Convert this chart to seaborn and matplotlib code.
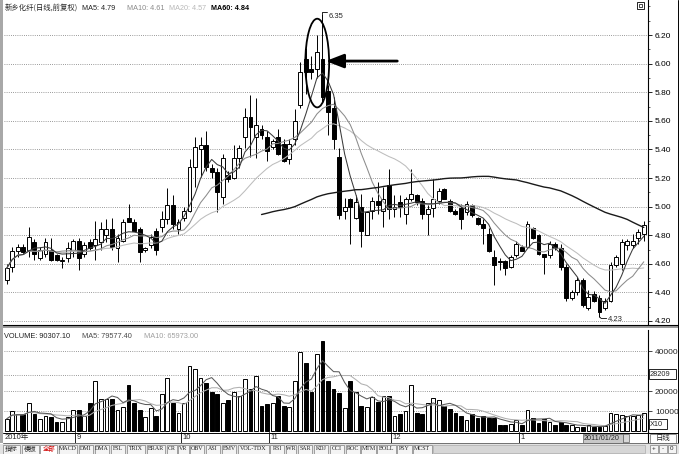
import numpy as np
import pandas as pd
import matplotlib
matplotlib.use("Agg")
import matplotlib.pyplot as plt
from matplotlib.patches import Ellipse, Rectangle
from matplotlib.ticker import MultipleLocator
import seaborn as sns

# ---------------- data ----------------
title_name = "新乡化纤(日线,前复权)"
ma_header = ["MA5: 4.79", "MA10: 4.61", "MA20: 4.57", "MA60: 4.84"]
vol_header = ["VOLUME: 90307.10", "MA5: 79577.40", "MA10: 65973.00"]

opens = [4.49, 4.58, 4.69, 4.72, 4.70, 4.75, 4.64, 4.67, 4.70, 4.66,
         4.62, 4.64, 4.69, 4.76, 4.67, 4.75, 4.73, 4.75, 4.80, 4.84,
         4.71, 4.76, 4.92, 4.89, 4.84, 4.70, 4.73, 4.83, 4.86, 4.91,
         5.01, 4.84, 4.92, 4.97, 5.28, 5.40, 5.43, 5.27, 5.24, 5.07,
         5.22, 5.20, 5.34, 5.49, 5.63, 5.49, 5.54, 5.49, 5.42, 5.49,
         5.44, 5.33, 5.47, 5.71, 6.03, 5.96, 5.96, 6.03, 5.81, 5.69,
         5.35, 4.97, 5.05, 4.92, 5.00, 4.80, 4.97, 5.04, 4.97, 5.15,
         4.98, 5.03, 4.95, 5.05, 5.08, 5.04, 4.95, 4.99, 5.04, 5.12,
         5.04, 4.97, 4.99, 4.96, 5.01, 4.92, 4.88, 4.81, 4.65, 4.62,
         4.62, 4.58, 4.66, 4.72, 4.72, 4.85, 4.80, 4.67, 4.66, 4.74,
         4.71, 4.58, 4.36, 4.40, 4.49, 4.29, 4.39, 4.36, 4.29, 4.34,
         4.59, 4.60, 4.73, 4.73, 4.78, 4.81]
highs = [4.60, 4.72, 4.74, 4.74, 4.86, 4.77, 4.72, 4.78, 4.78, 4.67,
         4.65, 4.75, 4.77, 4.78, 4.75, 4.77, 4.90, 4.89, 4.91, 4.92,
         4.81, 4.91, 5.02, 4.91, 4.86, 4.72, 4.81, 4.85, 4.97, 5.13,
         5.08, 4.91, 5.00, 5.33, 5.49, 5.49, 5.53, 5.30, 5.27, 5.37,
         5.25, 5.43, 5.43, 5.69, 5.78, 5.76, 5.57, 5.53, 5.47, 5.54,
         5.47, 5.47, 5.68, 6.01, 6.11, 6.05, 6.20, 6.35, 5.85, 5.77,
         5.41, 5.06, 5.06, 5.08, 5.09, 4.96, 5.07, 5.17, 5.14, 5.26,
         5.08, 5.08, 5.07, 5.26, 5.09, 5.06, 5.01, 5.19, 5.13, 5.13,
         5.05, 4.98, 5.02, 5.04, 5.02, 4.93, 4.91, 4.85, 4.70, 4.64,
         4.63, 4.66, 4.76, 4.73, 4.90, 4.86, 4.81, 4.67, 4.76, 4.75,
         4.74, 4.60, 4.42, 4.51, 4.50, 4.42, 4.41, 4.38, 4.36, 4.61,
         4.66, 4.77, 4.77, 4.81, 4.84, 4.90]
lows = [4.46, 4.54, 4.65, 4.67, 4.65, 4.63, 4.63, 4.65, 4.62, 4.62,
        4.57, 4.61, 4.65, 4.56, 4.65, 4.70, 4.63, 4.70, 4.75, 4.70,
        4.61, 4.75, 4.89, 4.83, 4.61, 4.68, 4.71, 4.66, 4.82, 4.88,
        4.84, 4.81, 4.90, 4.96, 5.14, 5.21, 5.25, 5.20, 4.96, 5.02,
        5.17, 5.19, 5.27, 5.41, 5.35, 5.34, 5.47, 5.32, 5.40, 5.36,
        5.31, 5.30, 5.43, 5.69, 5.79, 5.89, 5.90, 5.73, 5.50, 5.40,
        4.91, 4.91, 4.74, 4.91, 4.72, 4.80, 4.91, 4.95, 4.86, 4.91,
        4.93, 4.93, 4.88, 5.04, 5.01, 4.91, 4.80, 4.93, 5.02, 5.05,
        4.96, 4.94, 4.84, 4.94, 4.93, 4.87, 4.74, 4.68, 4.45, 4.56,
        4.52, 4.57, 4.65, 4.69, 4.71, 4.77, 4.66, 4.53, 4.64, 4.70,
        4.56, 4.34, 4.35, 4.38, 4.30, 4.28, 4.33, 4.23, 4.28, 4.33,
        4.58, 4.56, 4.70, 4.71, 4.74, 4.76]
closes = [4.57, 4.69, 4.72, 4.68, 4.79, 4.67, 4.70, 4.75, 4.63, 4.63,
          4.63, 4.71, 4.76, 4.64, 4.73, 4.71, 4.77, 4.84, 4.84, 4.72,
          4.78, 4.89, 4.89, 4.83, 4.68, 4.71, 4.79, 4.70, 4.91, 5.01,
          4.88, 4.89, 4.97, 5.28, 5.42, 5.43, 5.28, 5.24, 5.10, 5.34,
          5.19, 5.34, 5.41, 5.63, 5.56, 5.57, 5.50, 5.39, 5.46, 5.37,
          5.32, 5.44, 5.60, 5.94, 5.94, 5.94, 6.08, 5.77, 5.66, 5.47,
          4.94, 5.00, 5.00, 5.03, 4.83, 4.96, 5.04, 5.01, 5.05, 4.98,
          5.00, 5.00, 5.05, 5.09, 5.03, 4.95, 4.98, 5.05, 5.11, 5.05,
          4.97, 4.95, 4.91, 5.02, 4.94, 4.88, 4.85, 4.69, 4.59, 4.61,
          4.57, 4.65, 4.74, 4.69, 4.88, 4.78, 4.67, 4.65, 4.74, 4.71,
          4.58, 4.36, 4.40, 4.49, 4.31, 4.37, 4.34, 4.26, 4.34, 4.59,
          4.65, 4.75, 4.76, 4.76, 4.82, 4.87]
volumes = [6100, 9800, 8300, 8300, 14200, 8300, 5900, 7400, 7000, 4600,
           4600, 7000, 10700, 10500, 7700, 14200, 24900, 16000, 16200, 16200,
           10500, 12000, 23000, 13800, 10500, 7000, 11600, 7400, 18400, 26700,
           14200, 9200, 14200, 32600, 30800, 26700, 24000, 19400, 18400, 13800,
           15700, 19400, 17500, 25800, 21200, 27300, 12700, 13300, 14200, 17500,
           12300, 12000, 24900, 39300, 34100, 19400, 38300, 45000, 24900, 20800,
           19000, 11600, 24900, 19400, 12300, 12000, 17000, 14700, 17500, 17500,
           7400, 8300, 9800, 23000, 8800, 8300, 13800, 16400, 15700, 12300,
           11000, 8800, 7400, 5500, 8300, 6500, 7400, 6500, 6500, 3100,
           2800, 3700, 5500, 3100, 10700, 6500, 4100, 5900, 4600, 2800,
           4600, 2800, 2800, 1800, 2200, 2800, 2200, 2100, 2500, 8800,
           8600, 8000, 7400, 7600, 8000, 9030]

price_ticks = [6.20, 6.00, 5.80, 5.60, 5.40, 5.20, 5.00, 4.80, 4.60, 4.40, 4.20]
vol_ticks = [40000, 20000, 10000]
vol_marker = 28209
month_labels = ["2010年", "9", "10", "11", "12", "1"]
month_starts = [0, 13, 32, 48, 70, 93]
tab_labels = ["指标", "模板", "全部", "MACD", "DMI", "DMA", "FSL", "TRIX", "BRAR",
              "CR", "VR", "OBV", "ASI", "EMV", "VOL-TDX", "RSI", "WR", "SAR",
              "KDJ", "CCI", "ROC", "MTM", "BOLL", "PSY", "MCST"]
peak_label = "6.35"
low_label = "4.23"
cursor_date = "2011/01/20"
period_label = "日线"

# ---------------- setup ----------------
sns.set_theme(style="white")
plt.rcParams['font.family'] = ['Liberation Sans', 'Noto Sans CJK SC', 'DejaVu Sans']
plt.rcParams['axes.unicode_minus'] = False

W, H = 679, 454
fig = plt.figure(figsize=(W / 100, H / 100), dpi=100)
fig.patch.set_facecolor("white")


def px_ax(x0, y0, x1, y1, **kw):
    return fig.add_axes([x0 / W, 1 - y1 / H, (x1 - x0) / W, (y1 - y0) / H], **kw)


df = pd.DataFrame({"open": opens, "high": highs, "low": lows,
                   "close": closes, "volume": volumes})
df["idx"] = np.arange(len(df))
df["ma5"] = df["close"].rolling(5, min_periods=1).mean()
df["ma10"] = df["close"].rolling(10, min_periods=1).mean()
df["ma20"] = df["close"].rolling(20, min_periods=1).mean()
df["ma60"] = df["close"].rolling(60, min_periods=47).mean()
df["vma5"] = df["volume"].rolling(5, min_periods=1).mean()
df["vma10"] = df["volume"].rolling(10, min_periods=1).mean()
up = (df["close"] >= df["open"]).values
x = df["idx"].values

XMIN, XMAX = -0.49, 115.76

# ---------------- price panel ----------------
ax = px_ax(4, 0, 648, 324)
ax.set_facecolor("white")
ax.set_xlim(XMIN, XMAX)
ax.set_ylim(4.179, 6.445)
for s in ["top", "left", "bottom"]:
    ax.spines[s].set_visible(False)
ax.spines["right"].set_color("black")
ax.spines["right"].set_linewidth(0.8)
ax.yaxis.tick_right()
ax.set_yticks(price_ticks)
ax.set_yticklabels([f"{t:.2f}" for t in price_ticks])
ax.yaxis.set_minor_locator(MultipleLocator(0.1))
ax.tick_params(axis="y", which="major", direction="out", length=3, width=0.6,
               labelsize=6, pad=2, colors="black", right=True)
ax.tick_params(axis="y", which="minor", direction="out", length=1.5, width=0.5, right=True)
ax.set_xticks([])
ax.yaxis.grid(True, which="major", linestyle=(0, (1, 1.6)), color="#7a7a7a", linewidth=0.6)
ax.set_axisbelow(True)

body_lo = np.minimum(df["open"], df["close"]).values
body_h = np.maximum(np.abs(df["close"] - df["open"]).values, 0.004)
ax.vlines(x, df["low"], df["high"], color="black", linewidth=0.7, zorder=2)
ax.bar(x[up], body_h[up], bottom=body_lo[up], width=0.7, facecolor="white",
       edgecolor="black", linewidth=0.7, zorder=3)
ax.bar(x[~up], body_h[~up], bottom=body_lo[~up], width=0.7, facecolor="black",
       edgecolor="black", linewidth=0.7, zorder=3)

for col, c, lw in [("ma20", "#bdbdbd", 0.75), ("ma10", "#8c8c8c", 0.75),
                   ("ma5", "#3a3a3a", 0.75), ("ma60", "#1a1a1a", 1.0)]:
    sub = df[["idx", col]].dropna()
    sns.lineplot(x=sub["idx"], y=sub[col], ax=ax, color=c, linewidth=lw,
                 estimator=None, legend=False, zorder=4)
ax.set_xlabel("")
ax.set_ylabel("")

# annotations
pk = int(np.argmax(highs))
lo = int(np.argmin(lows))
ax.plot([pk, pk, pk + 0.9], [highs[pk], highs[pk] + 0.012, highs[pk] + 0.012],
        color="black", lw=0.6, zorder=5)
ax.text(pk + 1.1, highs[pk] - 0.02, peak_label, fontsize=5.5, va="center", ha="left")
ax.plot([lo, lo + 0.3, lo + 1.3], [lows[lo], lows[lo] - 0.012, lows[lo] - 0.012],
        color="black", lw=0.6, zorder=5)
ax.text(lo + 1.5, lows[lo] - 0.018, low_label, fontsize=5.5, va="center", ha="left")

ax.add_patch(Ellipse((pk - 0.95, 6.004), 4.3, 0.62, fill=False,
                     edgecolor="black", linewidth=1.3, zorder=6))
ax.annotate("", xy=(pk + 0.6, 6.018), xytext=(pk + 13.5, 6.018),
            arrowprops=dict(arrowstyle="-|>,head_length=0.9,head_width=0.35",
                            lw=2.0, color="black", shrinkA=0, shrinkB=0), zorder=6)

# ---------------- volume panel ----------------
vax = px_ax(4, 330, 648, 432)
vax.set_facecolor("white")
vax.set_xlim(XMIN, XMAX)
vax.set_ylim(-500, 50500)
for s in ["top", "left"]:
    vax.spines[s].set_visible(False)
vax.spines["right"].set_color("black")
vax.spines["right"].set_linewidth(0.8)
vax.spines["bottom"].set_color("black")
vax.spines["bottom"].set_linewidth(0.8)
vax.yaxis.tick_right()
vax.set_yticks(vol_ticks)
vax.set_yticklabels([str(t) for t in vol_ticks])
vax.tick_params(axis="y", direction="out", length=3, width=0.6, labelsize=6, pad=2, right=True)
vax.set_xticks([])
for t in vol_ticks + [vol_marker]:
    vax.axhline(t, linestyle=(0, (1, 1.6)), color="#7a7a7a", linewidth=0.6, zorder=0)
vol = df["volume"].values
vax.bar(x[up], vol[up], width=0.68, facecolor="white", edgecolor="black",
        linewidth=0.7, zorder=2)
vax.bar(x[~up], vol[~up], width=0.68, facecolor="black", edgecolor="black",
        linewidth=0.7, zorder=2)
sns.lineplot(x=df["idx"], y=df["vma10"], ax=vax, color="#b0b0b0", linewidth=0.75,
             estimator=None, legend=False, zorder=3)
sns.lineplot(x=df["idx"], y=df["vma5"], ax=vax, color="#5a5a5a", linewidth=0.75,
             estimator=None, legend=False, zorder=3)
vax.set_xlabel("")
vax.set_ylabel("")

# ---------------- date row ----------------
dax = px_ax(4, 432, 648, 443)
dax.set_xlim(XMIN, XMAX)
dax.set_ylim(0, 1)
dax.set_xticks([])
dax.set_yticks([])
for s in ["top", "left", "bottom"]:
    dax.spines[s].set_visible(False)
dax.spines["right"].set_color("black")
dax.spines["right"].set_linewidth(0.8)
for i, (lab, ms) in enumerate(zip(month_labels, month_starts)):
    if i > 0:
        dax.axvline(ms - 0.6, color="black", lw=0.6)
    dax.text(ms - 0.35 if i > 0 else ms - 0.45, 0.5, lab, fontsize=5.5,
             va="center", ha="left")

# ---------------- decorations (pixel overlay) ----------------
bg = px_ax(0, 0, W, H, zorder=10)
bg.set_xlim(0, W)
bg.set_ylim(H, 0)
bg.axis("off")

# left gray strip & right border
bg.add_patch(Rectangle((0, 0), 3, 443, facecolor="#a8a8a8", edgecolor="none"))
bg.plot([677.5, 677.5], [0, 443], color="black", lw=0.7)
# separator between panels
bg.plot([3, 679], [324.5, 324.5], color="black", lw=0.8)
bg.add_patch(Rectangle((3, 325.5), 676, 2.5, facecolor="#9a9a9a", edgecolor="none"))
# date row borders
bg.plot([3, 679], [432.5, 432.5], color="black", lw=0.7)
bg.plot([3, 679], [443.3, 443.3], color="#707070", lw=0.7)

# header texts
bg.text(5, 8, title_name, fontsize=5.3, va="center", ha="left",
        family=["Noto Sans CJK SC", "DejaVu Sans"])
for txt, xp, c, fw in zip(ma_header, [82, 127, 169, 211],
                          ["#202020", "#8a8a8a", "#b8b8b8", "black"],
                          ["normal", "normal", "normal", "bold"]):
    bg.text(xp, 8, txt, fontsize=5.2, va="center", ha="left", color=c, fontweight=fw)

# volume header
for txt, xp, c in zip(vol_header, [4, 82, 144], ["#202020", "#4a4a4a", "#a0a0a0"]):
    bg.text(xp, 336, txt, fontsize=5.3, va="center", ha="left", color=c)

# top-right icon
bg.add_patch(Rectangle((637, 2), 7, 7, facecolor="white", edgecolor="black", lw=0.6))
bg.add_patch(Rectangle((639, 4), 3, 3, facecolor="white", edgecolor="black", lw=0.5))

# axis boxes
bg.add_patch(Rectangle((648.5, 369), 27, 10, facecolor="white", edgecolor="black", lw=0.6))
bg.text(650, 374, str(vol_marker), fontsize=5.3, va="center", ha="left")
bg.add_patch(Rectangle((648.5, 419), 18, 10, facecolor="white", edgecolor="black", lw=0.6))
bg.text(650, 424, "X10", fontsize=5.3, va="center", ha="left")

# cursor date box & period box
bg.add_patch(Rectangle((583, 433.5), 40, 9, facecolor="#c8c8c8", edgecolor="#606060", lw=0.5))
bg.text(584, 438, cursor_date, fontsize=5.2, va="center", ha="left")
bg.add_patch(Rectangle((623, 434), 6, 8, facecolor="#d8d8d8", edgecolor="#606060", lw=0.5))
bg.add_patch(Rectangle((650, 433.5), 26, 9, facecolor="white", edgecolor="#606060", lw=0.5))
bg.text(663, 438, period_label, fontsize=5.3, va="center", ha="center",
        family=["Noto Sans CJK SC", "DejaVu Sans"])

# tab row
bg.add_patch(Rectangle((0, 443.5), W, 10.5, facecolor="#e2e2e2", edgecolor="none"))
xp = 3.0
for lab in tab_labels:
    ncjk = sum(1 for ch in lab if ord(ch) > 255)
    w = 8.5 * ncjk + 4.1 * (len(lab) - ncjk) + (2 if ncjk == 0 else 0)
    red = lab == "全部"
    bg.add_patch(Rectangle((xp, 444.5), w, 9, facecolor="white" if red else "#f4f4f4",
                           edgecolor="#808080", lw=0.5))
    bg.text(xp + w / 2, 449, lab, fontsize=4.6 if ncjk else 4.3, va="center", ha="center",
            color="#d00000" if red else "#202020",
            family=["Noto Sans CJK SC", "DejaVu Sans"] if ncjk else ["Liberation Serif", "DejaVu Serif"])
    xp += w + 1.6
bg.add_patch(Rectangle((xp, 445), 645 - xp, 8, facecolor="#d6d6d6", edgecolor="#a0a0a0", lw=0.4))
for k, sym in enumerate(["+", "-", "0"]):
    bx = 650 + k * 9
    bg.add_patch(Rectangle((bx, 445), 8, 8, facecolor="#f4f4f4", edgecolor="#808080", lw=0.5))
    bg.text(bx + 4, 449, sym, fontsize=4.5, va="center", ha="center")

fig.savefig("out.png", dpi=100, facecolor="white")
